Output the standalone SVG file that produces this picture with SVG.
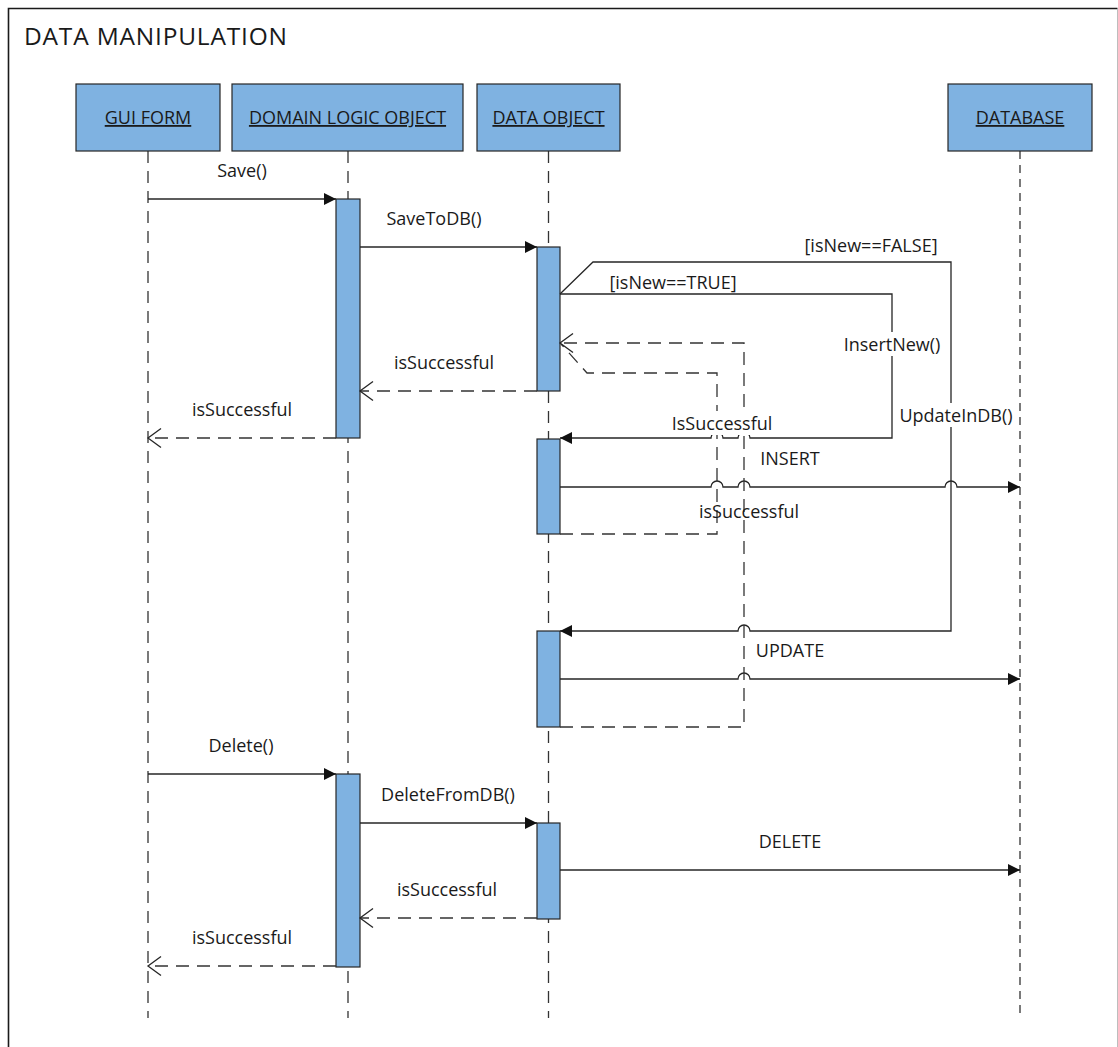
<svg xmlns="http://www.w3.org/2000/svg" width="1118" height="1047" viewBox="0 0 1118 1047">
  <style>
    text { font-family: "Open Sans", "Noto Sans", "Liberation Sans", sans-serif; fill: #1a1a1a; }
    .title { font-size: 24.5px; }
    .head { fill: #7fb2e1; stroke: #262626; stroke-width: 1.2; }
    .headtxt { font-size: 18px; text-anchor: middle; text-decoration: underline; }
    .life { stroke: #333; stroke-width: 1.3; stroke-dasharray: 12 8; fill: none; }
    .life-db { stroke-dasharray: 8 6; }
    .bar { fill: #7fb2e1; stroke: #262626; stroke-width: 1.2; }
    .msg { stroke: #262626; stroke-width: 1.3; fill: none; }
    .ret { stroke: #333; stroke-width: 1.3; fill: none; stroke-dasharray: 13 8; }
    .lbl { font-size: 18px; text-anchor: middle; }
    .mask { fill: #fff; }
  </style>
  <defs>
    <marker id="filled" markerUnits="userSpaceOnUse" markerWidth="13" markerHeight="13" refX="12" refY="6" orient="auto">
      <path d="M0,0 L12,6 L0,12 z" fill="#111"/>
    </marker>
    <marker id="open" markerUnits="userSpaceOnUse" markerWidth="16" markerHeight="22" refX="14" refY="10.5" orient="auto">
      <path d="M1,1 L14,10.5 L1,20" fill="none" stroke="#262626" stroke-width="1.3"/>
    </marker>
  </defs>

  <rect width="1118" height="1047" fill="#fff"/>

  <!-- frame -->
  <g id="frame">
    <path d="M8.5,1047 V8.5 H1117.5" fill="none" stroke="#1a1a1a" stroke-width="1.6"/>
    <line x1="1117.5" y1="9" x2="1117.5" y2="1047" stroke="#bdbdbd" stroke-width="1"/>
    <text class="title" x="24" y="45" textLength="263" lengthAdjust="spacing">DATA MANIPULATION</text>
  </g>

  <!-- lifelines -->
  <g id="gui-form">
    <line class="life" x1="148" y1="151" x2="148" y2="1018"/>
    <rect class="head" x="76" y="84" width="144" height="67"/>
    <text class="headtxt" x="148" y="124">GUI FORM</text>
  </g>
  <g id="domain-logic-object">
    <line class="life" x1="348" y1="151" x2="348" y2="1018"/>
    <rect class="head" x="232" y="84" width="231" height="67"/>
    <text class="headtxt" x="347.5" y="124">DOMAIN LOGIC OBJECT</text>
    <rect class="bar" x="336" y="199" width="24" height="239"/>
    <rect class="bar" x="336" y="774" width="24" height="193"/>
  </g>
  <g id="data-object">
    <line class="life" x1="548.5" y1="151" x2="548.5" y2="1018"/>
    <rect class="head" x="477" y="84" width="143" height="67"/>
    <text class="headtxt" x="548.5" y="124">DATA OBJECT</text>
    <rect class="bar" x="537" y="247" width="23" height="144"/>
    <rect class="bar" x="537" y="439" width="23" height="95"/>
    <rect class="bar" x="537" y="631" width="23" height="96"/>
    <rect class="bar" x="537" y="823" width="23" height="96"/>
  </g>
  <g id="database">
    <line class="life life-db" x1="1020" y1="151" x2="1020" y2="1018"/>
    <rect class="head" x="948" y="84" width="144" height="67"/>
    <text class="headtxt" x="1020" y="124">DATABASE</text>
  </g>

  <!-- messages -->
  <g id="connectors">
    <!-- save -->
    <line class="msg" x1="148" y1="199" x2="336" y2="199" marker-end="url(#filled)"/>
    <line class="msg" x1="360" y1="247" x2="537" y2="247" marker-end="url(#filled)"/>
    <line class="ret" x1="537" y1="391" x2="360" y2="391" marker-end="url(#open)"/>
    <line class="ret" x1="336" y1="438" x2="148" y2="438" marker-end="url(#open)"/>

    <!-- alternative branches -->
    <path class="msg" d="M560,294 H892 V438 H750 a6,6 0 0 0 -12,0 H723 a6,6 0 0 0 -12,0 H560" marker-end="url(#filled)"/>
    <path class="msg" d="M560,294 L593,262 H951 V631 H750 a6,6 0 0 0 -12,0 H560" marker-end="url(#filled)"/>

    <!-- insert / update to database -->
    <path class="msg" d="M560,487 H711 a6,6 0 0 1 12,0 H738 a6,6 0 0 1 12,0 H945 a6,6 0 0 1 12,0 H1020" marker-end="url(#filled)"/>
    <path class="msg" d="M560,679 H738 a6,6 0 0 1 12,0 H1020" marker-end="url(#filled)"/>

    <!-- results routed back to the first activation -->
    <path class="ret" d="M560,534 H717 V373 H587 L561,344"/>
    <path class="ret" d="M560,727 H744 V343 H560" marker-end="url(#open)"/>

    <!-- delete -->
    <line class="msg" x1="148" y1="774" x2="336" y2="774" marker-end="url(#filled)"/>
    <line class="msg" x1="360" y1="823" x2="537" y2="823" marker-end="url(#filled)"/>
    <line class="msg" x1="560" y1="870" x2="1020" y2="870" marker-end="url(#filled)"/>
    <line class="ret" x1="537" y1="918" x2="360" y2="918" marker-end="url(#open)"/>
    <line class="ret" x1="336" y1="966" x2="148" y2="966" marker-end="url(#open)"/>
  </g>

  <!-- labels -->
  <g id="labels">
    <text class="lbl" x="242" y="177">Save()</text>
    <text class="lbl" x="434" y="225">SaveToDB()</text>
    <text class="lbl" x="444" y="369">isSuccessful</text>
    <text class="lbl" x="242" y="416">isSuccessful</text>

    <text class="lbl" x="871" y="252">[isNew==FALSE]</text>
    <text class="lbl" x="673" y="289">[isNew==TRUE]</text>

    <rect class="mask" x="838" y="332" width="110" height="24"/>
    <text class="lbl" x="892" y="351">InsertNew()</text>
    <rect class="mask" x="897" y="403" width="120" height="24"/>
    <text class="lbl" x="956" y="422">UpdateInDB()</text>
    <rect class="mask" x="670" y="411" width="106" height="24"/>
    <text class="lbl" x="722" y="430">IsSuccessful</text>

    <text class="lbl" x="790" y="465">INSERT</text>
    <text class="lbl" x="749" y="518">isSuccessful</text>
    <text class="lbl" x="790" y="657">UPDATE</text>

    <text class="lbl" x="241" y="752">Delete()</text>
    <text class="lbl" x="448" y="801">DeleteFromDB()</text>
    <text class="lbl" x="790" y="848">DELETE</text>
    <text class="lbl" x="447" y="896">isSuccessful</text>
    <text class="lbl" x="242" y="944">isSuccessful</text>
  </g>
</svg>
